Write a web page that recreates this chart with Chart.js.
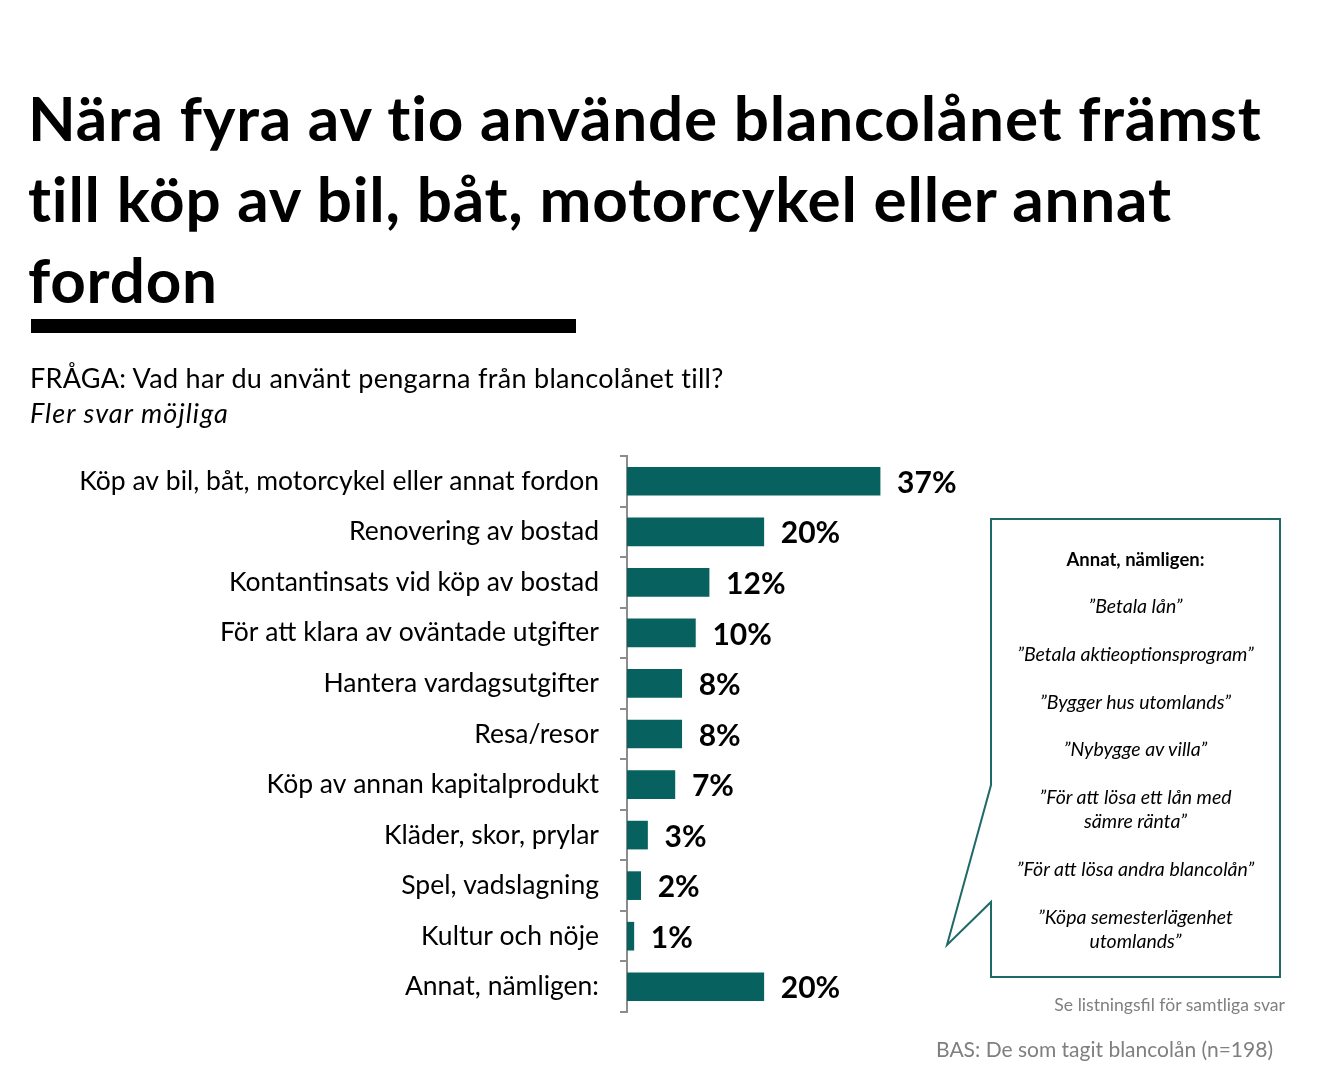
<!DOCTYPE html>
<html>
<head>
<meta charset="utf-8">
<script src="https://cdn.jsdelivr.net/npm/chart.js@4.4.1/dist/chart.umd.min.js"></script>
<style>
  html, body { margin: 0; padding: 0; background: #fff; }
  body { width: 1326px; height: 1080px; position: relative; overflow: hidden; font-family: Lato, "Open Sans", sans-serif; color: #000; }
  #chart-wrap { position: absolute; left: 0; top: 0; width: 1326px; height: 1080px; }
  .abs { position: absolute; white-space: nowrap; }
  #title { left: 28px; top: 77px; font-weight: 700; font-size: 62px; line-height: 81px; letter-spacing: 0.8px; }
  #rule { left: 31px; top: 319px; width: 545px; height: 14px; background: #000; }
  #question { left: 30px; top: 360px; font-size: 27px; line-height: 35px; letter-spacing: 0.3px; }
  #question i { display: block; letter-spacing: 1.1px; }
  #callout { position: absolute; left: 0; top: 0; }
  .box-line { position: absolute; left: 991px; width: 289px; text-align: center; font-size: 19.5px; line-height: 24px; font-style: italic; }
  .box-head { font-style: normal; font-weight: 700; font-size: 18.5px; }
  .note { color: #7f7f7f; text-align: right; }
</style>
</head>
<body>
<div id="chart-wrap"><canvas id="chart" width="1326" height="1080"></canvas></div>

<div id="title" class="abs">Nära fyra av tio använde blancolånet främst<br>till köp av bil, båt, motorcykel eller annat<br>fordon</div>
<div id="rule" class="abs"></div>
<div id="question" class="abs">FRÅGA: Vad har du använt pengarna från blancolånet till?<i>Fler svar möjliga</i></div>

<svg id="callout" width="1326" height="1080">
  <path d="M991,519 H1280 V977 H991 V902 L947,945 L991,785 Z" fill="#fff" stroke="#1f6a66" stroke-width="2"/>
</svg>
<div id="box-text"></div>

<div class="abs note" style="right:41px; top:994px; font-size:17.6px;">Se listningsfil för samtliga svar</div>
<div class="abs note" style="right:53px; top:1036px; font-size:21px;">BAS: De som tagit blancolån (n=198)</div>

<script>
// categories and values (percent)
const categories = [
    "Köp av bil, båt, motorcykel eller annat fordon",
    "Renovering av bostad",
    "Kontantinsats vid köp av bostad",
    "För att klara av oväntade utgifter",
    "Hantera vardagsutgifter",
    "Resa/resor",
    "Köp av annan kapitalprodukt",
    "Kläder, skor, prylar",
    "Spel, vadslagning",
    "Kultur och nöje",
    "Annat, nämligen:"
];
const values = [37, 20, 12, 10, 8, 8, 7, 3, 2, 1, 20];

// callout: "Annat, nämligen" answers
const otherHeading = "Annat, nämligen:";
const otherAnswers = [
    ["”Betala lån”"],
    ["”Betala aktieoptionsprogram”"],
    ["”Bygger hus utomlands”"],
    ["”Nybygge av villa”"],
    ["”För att lösa ett lån med", "sämre ränta”"],
    ["”För att lösa andra blancolån”"],
    ["”Köpa semesterlägenhet", "utomlands”"]
];

const BAR_COLOR = "#07625f";
const FONT = "Lato, 'Open Sans', sans-serif";

// build callout text
const boxText = document.getElementById("box-text");
const boxYs = [559, 606, 654, 702, 749, 809, 869, 929];
function addBoxLine(lines, yc, head) {
    const d = document.createElement("div");
    d.className = "box-line" + (head ? " box-head" : "");
    d.innerHTML = lines.join("<br>");
    d.style.top = (yc - lines.length * 12) + "px";
    boxText.appendChild(d);
}
addBoxLine([otherHeading], boxYs[0], true);
otherAnswers.forEach((lines, i) => addBoxLine(lines, boxYs[i + 1], false));

// value labels at bar ends
const valueLabels = {
    id: "valueLabels",
    afterDatasetsDraw(chart) {
        const ctx = chart.ctx;
        const meta = chart.getDatasetMeta(0);
        ctx.save();
        ctx.font = "700 30px " + FONT;
        ctx.fillStyle = "#000";
        ctx.textAlign = "left";
        ctx.textBaseline = "middle";
        meta.data.forEach((bar, i) => {
            ctx.fillText(values[i] + "%", bar.x + 17, bar.y + 2);
        });
        ctx.restore();
    }
};

const ctx = document.getElementById("chart").getContext("2d");
new Chart(ctx, {
    type: "bar",
    data: {
        labels: categories,
        datasets: [{
            data: values,
            backgroundColor: BAR_COLOR,
            borderWidth: 0,
            barThickness: 28
        }]
    },
    options: {
        indexAxis: "y",
        responsive: false,
        animation: false,
        devicePixelRatio: 1,
        layout: { padding: { top: 456, bottom: 68, left: 0, right: 357 } },
        plugins: { legend: { display: false }, tooltip: { enabled: false } },
        scales: {
            x: { display: false, min: 0, max: 50 },
            y: {
                afterFit: (scale) => { scale.width = 627; },
                border: { display: true, color: "#8c8c8c", width: 2 },
                grid: { display: true, drawOnChartArea: false, drawTicks: true, tickLength: 7, color: "#8c8c8c", lineWidth: 2, offset: true },
                ticks: { color: "#000", font: { family: FONT, size: 26.5 }, padding: 21 }
            }
        }
    },
    plugins: [valueLabels]
});
</script>
</body>
</html>
